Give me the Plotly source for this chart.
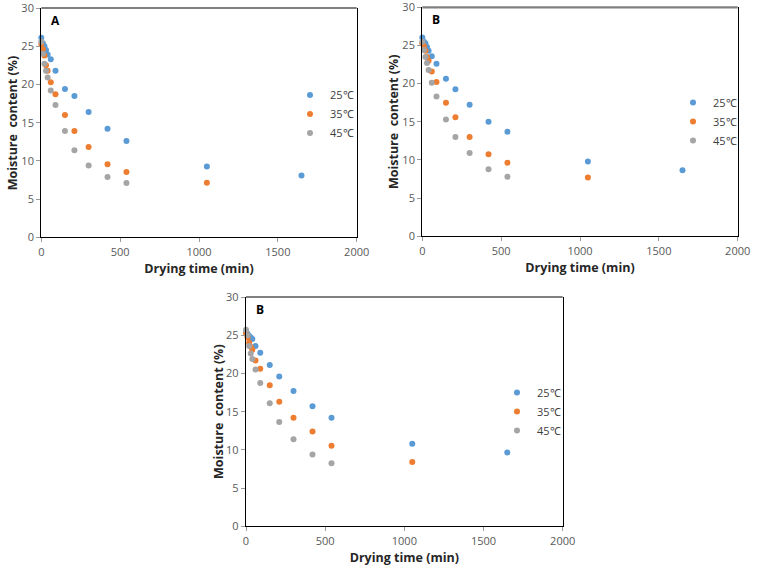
import plotly.graph_objects as go

# ---------------- data ----------------
temps = ["25℃", "35℃", "45℃"]
colors = ["#5B9BD5", "#ED7D31", "#A5A5A5"]

time_25 = [0, 10, 20, 30, 40, 60, 90, 150, 210, 300, 420, 540, 1050, 1650]
time_35 = [0, 10, 20, 30, 40, 60, 90, 150, 210, 300, 420, 540, 1050]
time_45 = [0, 10, 20, 30, 40, 60, 90, 150, 210, 300, 420, 540]

# Panel A
a_25 = [26.1, 25.4, 25.0, 24.5, 23.9, 23.3, 21.8, 19.4, 18.5, 16.4, 14.2, 12.6, 9.25, 8.1]
a_35 = [25.3, 24.6, 23.8, 22.5, 21.8, 20.3, 18.7, 16.0, 13.9, 11.8, 9.55, 8.55, 7.15]
a_45 = [25.6, 24.0, 22.7, 21.8, 20.9, 19.2, 17.3, 13.9, 11.4, 9.4, 7.9, 7.1]

# Panel B (top right)
b_25 = [26.05, 25.5, 25.3, 24.8, 24.3, 23.6, 22.6, 20.65, 19.25, 17.25, 15.0, 13.7, 9.8, 8.65]
b_35 = [25.3, 24.9, 24.3, 23.5, 23.0, 21.6, 20.2, 17.5, 15.6, 13.0, 10.75, 9.65, 7.7]
b_45 = [25.5, 24.4, 23.5, 22.7, 21.8, 20.1, 18.3, 15.3, 13.0, 10.9, 8.8, 7.8]

# Panel C (bottom)
c_25 = [25.45, 25.2, 24.9, 24.7, 24.5, 23.6, 22.7, 21.1, 19.6, 17.7, 15.7, 14.2, 10.8, 9.65]
c_35 = [25.2, 24.7, 24.0, 23.5, 23.1, 21.7, 20.6, 18.45, 16.3, 14.2, 12.4, 10.55, 8.4]
c_45 = [25.7, 25.0, 23.6, 22.6, 21.9, 20.5, 18.75, 16.1, 13.65, 11.4, 9.4, 8.25]

panel_labels = ["A", "B", "B"]
x_title = "Drying time (min)"
y_title = "Moisture  content (%)"
x_ticks = [0, 500, 1000, 1500, 2000]
y_ticks = [0, 5, 10, 15, 20, 25, 30]

panels = [
    (a_25, a_35, a_45),
    (b_25, b_35, b_45),
    (c_25, c_35, c_45),
]
times = [time_25, time_35, time_45]

# ---------------- layout geometry ----------------
W, H = 760, 572
boxes = [  # left, right, top, bottom in px
    (41.3, 356.7, 8.0, 237.3),
    (422.3, 737.7, 7.3, 236.3),
    (246.0, 562.7, 297.0, 526.3),
]
legend_pos = [(290, 80.5), (673, 88), (497, 378)]  # px, top-left of legend
label_pos = [(55, 20.7), (435.7, 19.3), (260, 309.3)]
ytitle_x = [12.7, 393.3, 218.3]


def fx(px):
    return px / W


def fy(py):
    return 1 - py / H


fig = go.Figure()
font_family = "Open Sans, Liberation Sans, sans-serif"

for i, (series, box) in enumerate(zip(panels, boxes)):
    sfx = "" if i == 0 else str(i + 1)
    leg = "legend" if i == 0 else f"legend{i + 1}"
    for j in range(3):
        fig.add_trace(go.Scatter(
            x=times[j], y=series[j], mode="markers",
            name=temps[j],
            marker=dict(color=colors[j], size=6),
            xaxis="x" + sfx, yaxis="y" + sfx,
            legend=leg, showlegend=True, cliponaxis=False,
        ))
    l, r, t, b = box
    axis_common = dict(
        showgrid=False, zeroline=False, showline=True, linecolor="black",
        linewidth=1.3, ticks="outside", ticklen=4, tickcolor="#9a9a9a",
        automargin=False, ticklabeloverflow="allow",
        tickfont=dict(size=11, color="#595959", family=font_family),
        title_font=dict(size=12.5, color="#262626", family="Open Sans"),
    )
    fig.layout["xaxis" + sfx] = dict(
        domain=[fx(l), fx(r)], range=[0, 2000], tickvals=x_ticks,
        anchor="y" + sfx,
        title=dict(text=f"<b>{x_title}</b>", standoff=6),
        **axis_common,
    )
    fig.layout["yaxis" + sfx] = dict(
        domain=[fy(b), fy(t)], range=[0, 30], tickvals=y_ticks,
        anchor="x" + sfx, mirror=True,
        **axis_common,
    )
    # y-axis title placed explicitly
    fig.add_annotation(
        x=fx(ytitle_x[i]), y=fy((t + b) / 2), xref="paper", yref="paper",
        text=f"<b>{y_title}</b>", textangle=-90, showarrow=False,
        font=dict(size=12.5, color="#262626", family="Open Sans"),
        xanchor="center", yanchor="middle",
    )
    # top border (gray), in paper coords so it is not clipped
    fig.add_shape(type="line", xref="paper", yref="paper",
                  x0=fx(l), x1=fx(r), y0=fy(t), y1=fy(t),
                  line=dict(color="#808080", width=2.2), layer="above")
    lx, ly = legend_pos[i]
    fig.layout[leg] = dict(
        x=fx(lx), y=fy(ly), xanchor="left", yanchor="top",
        bgcolor="rgba(0,0,0,0)", borderwidth=0,
        font=dict(size=11, color="#404040", family=font_family),
        itemwidth=30, tracegroupgap=0,
    )
    px_, py_ = label_pos[i]
    fig.add_annotation(
        x=fx(px_), y=fy(py_), xref="paper", yref="paper",
        text=f"<b>{panel_labels[i]}</b>", showarrow=False,
        font=dict(size=12, color="black", family=font_family),
        xanchor="center", yanchor="middle",
    )

fig.update_layout(
    width=W, height=H, margin=dict(l=0, r=0, t=0, b=0),
    paper_bgcolor="white", plot_bgcolor="white",
)

# remove the default 8px page margin so the figure fills the window exactly
fig.write_html("out.html", config={"displayModeBar": False},
               post_script="document.body.style.margin='0';")
